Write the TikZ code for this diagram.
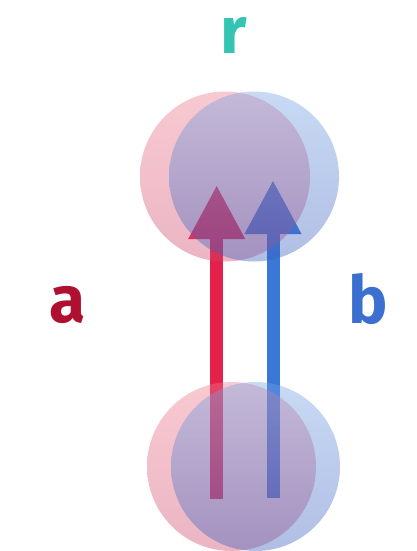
\documentclass[tikz,border=0pt]{standalone}
\usepackage{fontspec}
\setmainfont{Fira Sans}
\usetikzlibrary{arrows.meta}
\definecolor{rlab}{RGB}{52,196,180}
\definecolor{alab}{RGB}{176,16,48}
\definecolor{blab}{RGB}{60,112,208}
\definecolor{redarrow}{RGB}{227,33,74}
\definecolor{bluearrow}{RGB}{58,120,216}
\definecolor{pinktop}{RGB}{238,120,140}
\definecolor{pinkbot}{RGB}{205,70,105}
\definecolor{bluetop}{RGB}{117,162,227}
\definecolor{bluebot}{RGB}{57,92,187}
\begin{document}
\begin{tikzpicture}[x=1pt,y=-1pt,
  biglabel/.style={anchor=base,inner sep=0pt,font=\fontsize{66}{66}\selectfont\bfseries},
  arrowshaft/.style={line width=13pt,line cap=butt,-{Triangle[length=54pt,width=53pt]}},
  pinkball/.style={top color=pinktop,bottom color=pinkbot,fill opacity=0.4},
  blueball/.style={top color=bluetop,bottom color=bluebot,fill opacity=0.4}]
\useasboundingbox (0,0) rectangle (416,551);
% labels
\node[biglabel,text=rlab] (r) at (234,53) {r};
\node[biglabel,text=alab] (a) at (68,322) {a};
\node[biglabel,text=blab] (b) at (368,323) {b};
% arrows
\coordinate (ra0) at (216.7,499);
\coordinate (ra1) at (216.7,185);
\coordinate (ba0) at (273,498);
\coordinate (ba1) at (273,180);
\draw[arrowshaft,draw=redarrow,fill=redarrow] (ra0) -- (ra1);
\draw[arrowshaft,draw=bluearrow,fill=bluearrow] (ba0) -- (ba1);
% circles
\shade[pinkball] (225,176.5) circle[radius=85];
\shade[blueball] (254,176.5) circle[radius=85];
\shade[pinkball] (231.5,466.5) circle[radius=84.5];
\shade[blueball] (255.5,466.5) circle[radius=84.5];
\end{tikzpicture}
\end{document}
